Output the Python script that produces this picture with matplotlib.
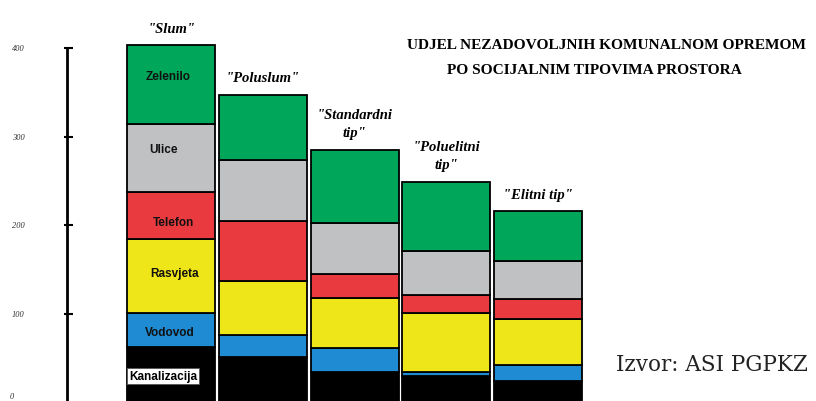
import numpy as np
import matplotlib
matplotlib.use("Agg")
import matplotlib.pyplot as plt

# categories and stacked values (bottom to top)
tipovi = ['"Slum"', '"Poluslum"', '"Standardni\ntip"', '"Poluelitni\ntip"', '"Elitni tip"']
komponente = ["Kanalizacija", "Vodovod", "Rasvjeta", "Telefon", "Ulice", "Zelenilo"]
kanalizacija = [63, 51, 35, 30, 25]
vodovod = [38, 25, 27, 5, 17]
rasvjeta = [83, 61, 56, 66, 52]
telefon = [53, 68, 27, 20, 23]
ulice = [77, 68, 57, 50, 43]
zelenilo = [89, 74, 83, 78, 56]
y_ticks = [100, 200, 300, 400]
y_labels = ["100", "200", "300", "400"]

boje = ["#000000", "#1e8bd3", "#eee619", "#e83a3f", "#bfc1c3", "#00a65a"]
serije = [kanalizacija, vodovod, rasvjeta, telefon, ulice, zelenilo]

# where the label sits inside the segment of the first bar (fraction of height, x offset)
label_pos = [(0.48, -0.46), (0.45, -0.01), (0.54, 0.04), (0.38, 0.03), (0.64, -0.08), (0.61, -0.03)]

fig = plt.figure(figsize=(8.16, 4.02), dpi=100)
ax = fig.add_axes([0, 0, 1, 1])

x = np.arange(len(tipovi))
dno = np.zeros(len(tipovi))
for ime, vrijednosti, boja, (frac, dx) in zip(komponente, serije, boje, label_pos):
    v = np.array(vrijednosti, dtype=float)
    ax.bar(x, v, bottom=dno, width=0.96, color=boja, edgecolor="black", linewidth=1.3)
    # labels only on the first bar
    ly = dno[0] + frac * v[0]
    if ime == "Kanalizacija":
        ax.text(x[0] + dx, ly, ime, ha="left", va="center", fontsize=8.5, fontweight="bold",
                family="Liberation Sans",
                bbox=dict(facecolor="white", edgecolor="#555555", linewidth=0.6, pad=1.2))
    else:
        ax.text(x[0] + dx, ly, ime, ha="center", va="center", fontsize=8.5, fontweight="bold",
                family="Liberation Sans", color="#111111")
    dno = dno + v

# category names above the bars
for i, t in enumerate(tipovi):
    ax.annotate(t, (x[i], dno[i]), xytext=(0, 7.5), textcoords="offset points",
                ha="center", va="bottom", fontsize=10.5, fontstyle="italic", fontweight="bold",
                family="Liberation Serif", linespacing=1.5)

# hand drawn y axis
ax_x = -1.133
ax.plot([ax_x, ax_x], [-10, 400], color="black", linewidth=2)
ax.hlines(y_ticks, ax_x - 0.035, ax_x + 0.065, color="black", linewidth=1.5)
for yt, yl in zip(y_ticks, y_labels):
    ax.text(-1.667, yt, yl, ha="center", va="center", fontsize=6, fontstyle="italic",
            family="Liberation Serif", color="#333333")
ax.text(-1.73, 2.5, "0", ha="center", va="bottom", fontsize=6, fontstyle="italic",
        family="Liberation Serif", color="#333333")

# title and source
ax.text(0.743, 0.887, "UDJEL NEZADOVOLJNIH KOMUNALNOM OPREMOM", transform=ax.transAxes,
        ha="center", va="center", fontsize=11.1, fontweight="bold", family="Liberation Serif")
ax.text(0.728, 0.825, "PO SOCIJALNIM TIPOVIMA PROSTORA", transform=ax.transAxes,
        ha="center", va="center", fontsize=11.1, fontweight="bold", family="Liberation Serif")
ax.text(0.872, 0.092, "Izvor: ASI PGPKZ", transform=ax.transAxes,
        ha="center", va="center", fontsize=15.5, family="DejaVu Serif", color="#222222")

ax.set_xlim(-1.863, 7.026)
ax.set_ylim(1.9, 455)
ax.axis("off")

fig.savefig("out.png", dpi=100, facecolor="white")
plt.close(fig)
